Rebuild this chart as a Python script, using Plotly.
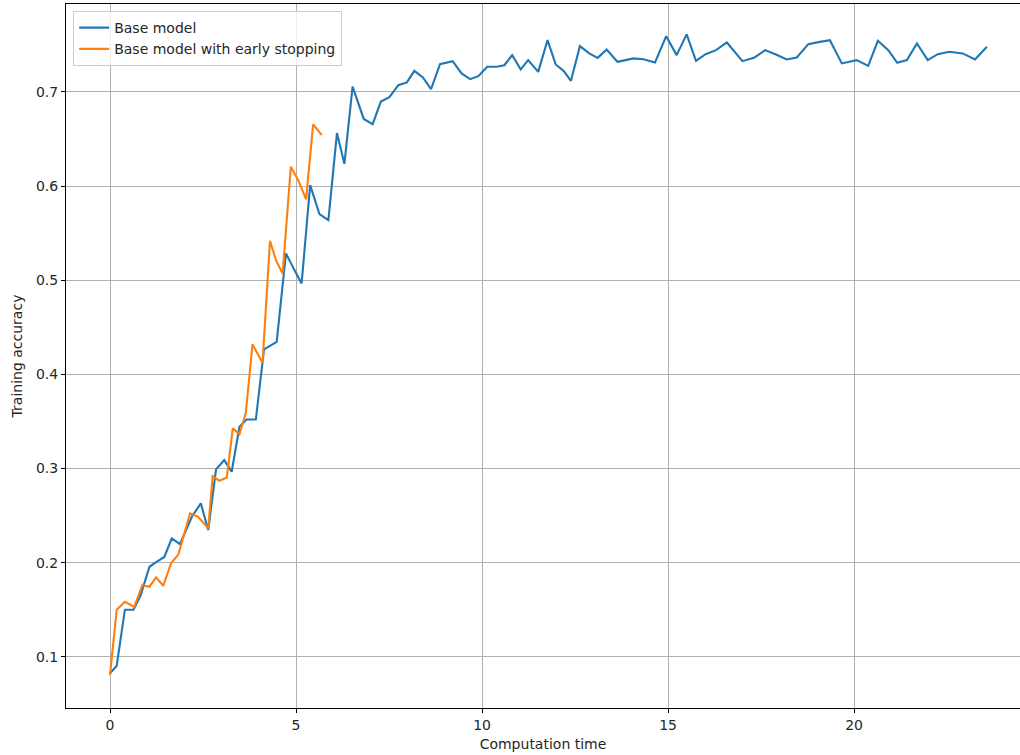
import plotly.graph_objects as go

# Training accuracy over computation time
base_time = [0, 0.18, 0.40, 0.63, 0.82, 1.06, 1.25, 1.46, 1.66, 1.88, 2.2, 2.44, 2.64, 2.85,
             3.07, 3.27, 3.48, 3.67, 3.92, 4.14, 4.48, 4.73, 4.94, 5.15, 5.38, 5.63, 5.87,
             6.10, 6.30, 6.52, 6.82, 7.06, 7.28, 7.51, 7.75, 7.98, 8.18, 8.41, 8.63, 8.87,
             9.21, 9.45, 9.68, 9.90, 10.14, 10.40, 10.60, 10.81, 11.04, 11.24, 11.51, 11.76,
             11.98, 12.19, 12.39, 12.63, 12.88, 13.11, 13.35, 13.64, 13.86, 14.07, 14.34,
             14.65, 14.95, 15.23, 15.50, 15.75, 16.01, 16.29, 16.58, 17.0, 17.31, 17.61,
             17.90, 18.19, 18.46, 18.77, 19.04, 19.35, 19.67, 20.07, 20.38, 20.64, 20.92,
             21.16, 21.42, 21.69, 21.98, 22.25, 22.56, 22.92, 23.25, 23.57]
base_acc = [0.0824, 0.0905, 0.150, 0.150, 0.165, 0.1956, 0.2009, 0.206, 0.2257, 0.2197,
            0.2487, 0.263, 0.2346, 0.299, 0.3089, 0.2965, 0.3443, 0.352, 0.352, 0.4264,
            0.4345, 0.5284, 0.512, 0.4965, 0.6009, 0.5701, 0.5637, 0.6562, 0.6236, 0.7056,
            0.6712, 0.6657, 0.6897, 0.6944, 0.7071, 0.710, 0.7223, 0.7153, 0.7029, 0.7294,
            0.7326, 0.7195, 0.7135, 0.7167, 0.7266, 0.7266, 0.7283, 0.739, 0.7238, 0.7337,
            0.7212, 0.7549, 0.7291, 0.7223, 0.7117, 0.7485, 0.7408, 0.7361, 0.745, 0.7319,
            0.7337, 0.7355, 0.7347, 0.7312, 0.7591, 0.739, 0.761, 0.7329, 0.740, 0.7443,
            0.7524, 0.7326, 0.7361, 0.7443, 0.7397, 0.7344, 0.7365, 0.7507, 0.7528, 0.7549,
            0.7302, 0.7337, 0.7276, 0.7542, 0.7443, 0.7308, 0.7337, 0.7514, 0.7337, 0.740,
            0.7425, 0.7408, 0.7344, 0.7478]

early_time = [0, 0.18, 0.40, 0.65, 0.87, 1.06, 1.24, 1.43, 1.64, 1.84, 2.15, 2.37, 2.64,
              2.76, 2.94, 3.14, 3.30, 3.48, 3.65, 3.83, 4.10, 4.30, 4.46, 4.64, 4.86, 5.06,
              5.27, 5.46, 5.69]
early_acc = [0.0806, 0.150, 0.1584, 0.153, 0.176, 0.1744, 0.1843, 0.1754, 0.1992, 0.2088,
             0.2523, 0.2487, 0.2364, 0.2919, 0.287, 0.2905, 0.3426, 0.3365, 0.359, 0.4318,
             0.4122, 0.5418, 0.5213, 0.5071, 0.6204, 0.6062, 0.5857, 0.6654, 0.654]

x_ticks = [0, 5, 10, 15, 20]
y_ticks = [0.1, 0.2, 0.3, 0.4, 0.5, 0.6, 0.7]

FONT = "DejaVu Sans"
SIZE = 14
TEXT = "#262626"

fig = go.Figure()
fig.add_trace(go.Scatter(x=base_time, y=base_acc, mode="lines", name="Base model",
                         line=dict(color="#1f77b4", width=2.1)))
fig.add_trace(go.Scatter(x=early_time, y=early_acc, mode="lines",
                         name="Base model with early stopping",
                         line=dict(color="#ff7f0e", width=2.1)))

axis_common = dict(
    showgrid=True, gridcolor="#b0b0b0", gridwidth=1,
    zeroline=False, showline=True, linecolor="black", linewidth=1,
    ticks="outside", ticklen=4, tickcolor="black", tickwidth=1,
    tickfont=dict(family=FONT, size=SIZE, color=TEXT),
)

fig.update_layout(
    width=1020, height=755,
    margin=dict(l=66, r=0, t=4, b=47),
    paper_bgcolor="white", plot_bgcolor="white",
    font=dict(family=FONT, size=SIZE, color=TEXT),
    xaxis=dict(range=[-1.183, 24.46], tickvals=x_ticks, mirror=True,
               title=dict(text="Computation time", standoff=7,
                          font=dict(family=FONT, size=SIZE, color=TEXT)),
               **axis_common),
    yaxis=dict(range=[0.0456, 0.7933], tickvals=y_ticks, tickformat=".1f", mirror=False,
               title=dict(text="Training accuracy", standoff=10,
                          font=dict(family=FONT, size=SIZE, color=TEXT)),
               **axis_common),
    legend=dict(x=0.0075, y=0.99, xanchor="left", yanchor="top",
                bgcolor="rgba(255,255,255,0.8)", bordercolor="#cccccc", borderwidth=1,
                font=dict(family=FONT, size=SIZE, color=TEXT),
                tracegroupgap=2),
    showlegend=True,
)

fig.write_html("out.html")
